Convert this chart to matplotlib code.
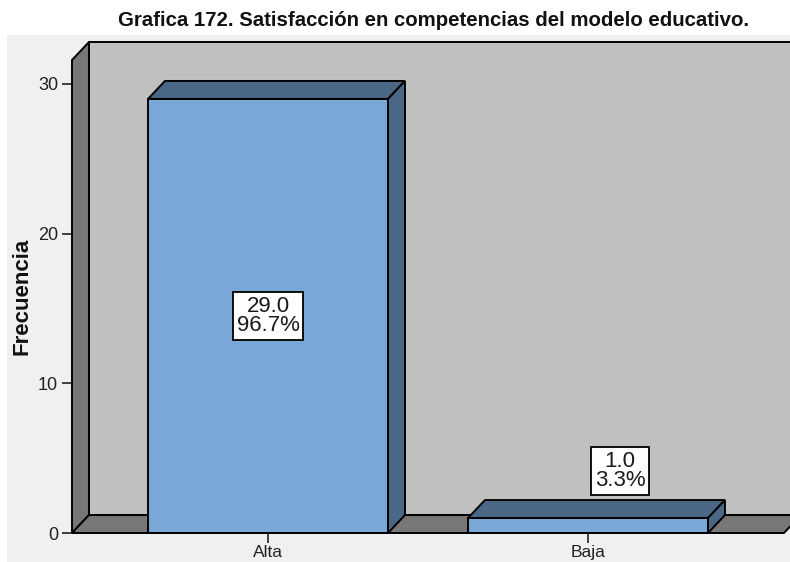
import matplotlib
matplotlib.use("Agg")
import matplotlib.pyplot as plt
from matplotlib.patches import Polygon, Rectangle

# SPSS style 3D frequency bar chart
categories = ["Alta", "Baja"]
counts = [29.0, 1.0]
percents = [96.7, 3.3]
y_ticks = [0, 10, 20, 30]
title = "Grafica 172. Satisfacción en competencias del modelo educativo."

plt.rcParams["font.family"] = ["Liberation Sans", "DejaVu Sans"]

W, H = 790, 562
fig = plt.figure(figsize=(W / 100, H / 100), dpi=100, facecolor="white")

# light gray chart panel behind everything
fig.patches.append(Rectangle((7 / W, 0), 1 - 7 / W, (H - 35) / H,
                             transform=fig.transFigure, facecolor="#f0f0f0",
                             edgecolor="none", zorder=-10))

ax = fig.add_axes([72 / W, 29 / H, 712 / W, 473 / H])
ax.set_facecolor("none")
x0, x1 = -0.6125, 1.6125
ytop = 31.6
ax.set_xlim(x0, x1)
ax.set_ylim(0, ytop)
for s in ax.spines.values():
    s.set_visible(False)

dx, dy = 0.053, 1.2          # depth offset of the 3D effect
wall_back = "#c0c0c0"
wall_side = "#777777"
bar_front = "#79a8d6"
bar_dark = "#4a6886"
edge = dict(edgecolor="black", linewidth=1.4, clip_on=False, joinstyle="miter")

# back wall, left wall and floor
ax.add_patch(Polygon([(x0 + dx, dy), (x1 + dx, dy), (x1 + dx, ytop + dy), (x0 + dx, ytop + dy)],
                     facecolor=wall_back, zorder=1, **edge))
ax.add_patch(Polygon([(x0, 0), (x0 + dx, dy), (x0 + dx, ytop + dy), (x0, ytop)],
                     facecolor=wall_side, zorder=2, **edge))
ax.add_patch(Polygon([(x0, 0), (x1, 0), (x1 + dx, dy), (x0 + dx, dy)],
                     facecolor=wall_side, zorder=2, **edge))

bw = 0.75
for i, (v, p) in enumerate(zip(counts, percents)):
    l, r = i - bw / 2, i + bw / 2
    ax.add_patch(Polygon([(l, 0), (r, 0), (r, v), (l, v)],
                         facecolor=bar_front, zorder=3, **edge))
    ax.add_patch(Polygon([(l, v), (r, v), (r + dx, v + dy), (l + dx, v + dy)],
                         facecolor=bar_dark, zorder=3, **edge))
    ax.add_patch(Polygon([(r, 0), (r + dx, dy), (r + dx, v + dy), (r, v)],
                         facecolor=bar_dark, zorder=3, **edge))
    # label inside tall bars, above short ones
    if v > 6:
        lx, ly = i, v / 2
    else:
        lx, ly = i + 0.1, v + 3.15
    ax.text(lx, ly, f"{v:.1f}\n{p:.1f}%", ha="center", va="center",
            fontsize=16, linespacing=0.92, color="#1a1a1a", zorder=5,
            bbox=dict(boxstyle="square,pad=0.15", facecolor="white",
                      edgecolor="black", linewidth=1.3))

ax.set_yticks(y_ticks)
ax.set_xticks(range(len(categories)))
ax.set_xticklabels(categories)
ax.tick_params(axis="y", direction="out", length=7.5, width=1.2, pad=2.5,
               labelsize=13, color="#222222", labelcolor="#222222")
ax.tick_params(axis="x", direction="out", length=7, width=1.2, pad=1.5,
               labelsize=12.5, color="#222222", labelcolor="#222222")
ax.set_ylabel("Frecuencia", fontsize=16, fontweight="bold", color="#111111")
ax.yaxis.set_label_coords(-0.055, 0.5)

fig.text(434 / W, 1 - 21 / H, title, ha="center", va="center",
         fontsize=14.7, fontweight="bold", color="#111111")

fig.savefig("out.png", dpi=100, facecolor="white")
